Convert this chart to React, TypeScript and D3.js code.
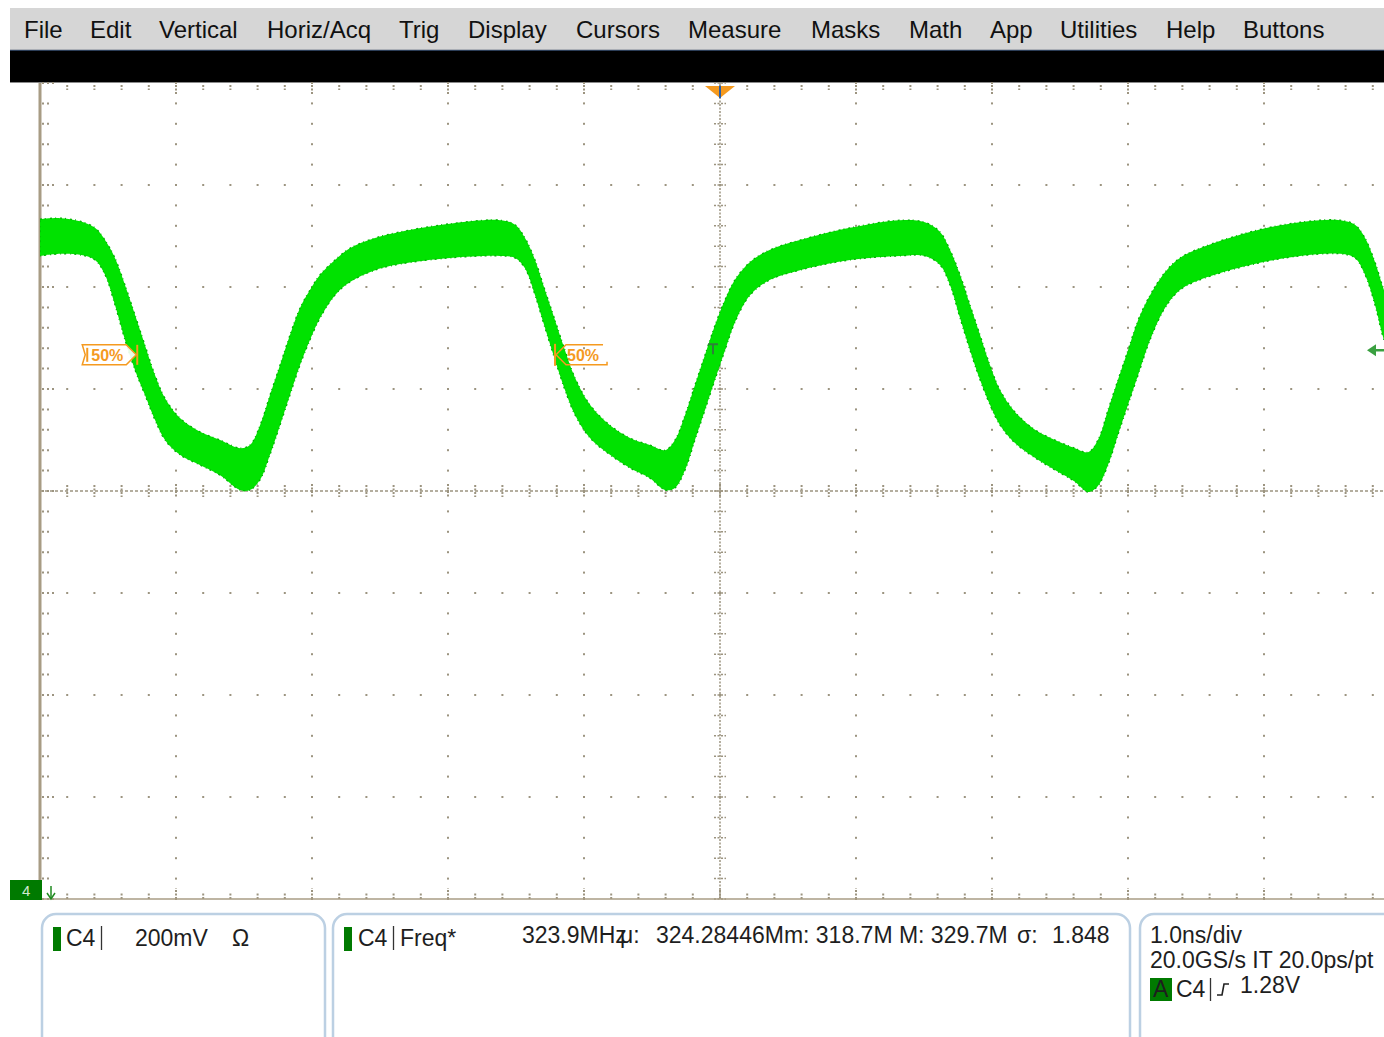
import React from "react";
import * as d3 from "d3";

// ---- data (time in ns, voltage envelope of the persistence band in V) ----
const timeNs = [
  -5.0, -4.853, -4.706, -4.596, -4.522, -4.449, -4.375, -4.301, -4.228, -4.154,
  -4.081, -3.971, -3.824, -3.676, -3.529, -3.456, -3.382, -3.309, -3.235, -3.162,
  -3.088, -3.015, -2.941, -2.831, -2.721, -2.537, -2.353, -1.985, -1.618, -1.507,
  -1.434, -1.36, -1.287, -1.213, -1.14, -1.066, -0.956, -0.809, -0.662, -0.515,
  -0.404, -0.331, -0.257, -0.184, -0.11, -0.037, 0.037, 0.11, 0.221, 0.368,
  0.588, 0.956, 1.324, 1.507, 1.618, 1.691, 1.765, 1.838, 1.912, 1.985,
  2.059, 2.169, 2.316, 2.463, 2.61, 2.706, 2.779, 2.853, 2.926, 3.0,
  3.074, 3.162, 3.272, 3.382, 3.529, 3.897, 4.265, 4.559, 4.669, 4.743,
  4.816, 4.882, 5.0,
];
const upperV = [
  1.533, 1.535, 1.529, 1.516, 1.492, 1.457, 1.404, 1.345, 1.286, 1.227,
  1.182, 1.143, 1.116, 1.1, 1.084, 1.09, 1.129, 1.188, 1.247, 1.306,
  1.359, 1.394, 1.424, 1.453, 1.476, 1.496, 1.508, 1.524, 1.531, 1.522,
  1.496, 1.453, 1.394, 1.335, 1.276, 1.222, 1.169, 1.129, 1.104, 1.09,
  1.08, 1.1, 1.149, 1.208, 1.267, 1.325, 1.375, 1.414, 1.449, 1.473,
  1.492, 1.516, 1.531, 1.527, 1.508, 1.473, 1.424, 1.365, 1.306, 1.247,
  1.198, 1.155, 1.12, 1.1, 1.084, 1.076, 1.1, 1.159, 1.218, 1.276,
  1.335, 1.384, 1.429, 1.457, 1.476, 1.508, 1.527, 1.531, 1.522, 1.496,
  1.449, 1.394, 1.316,
];
const lowerV = [
  1.461, 1.465, 1.463, 1.453, 1.424, 1.365, 1.296, 1.237, 1.188, 1.139,
  1.1, 1.071, 1.051, 1.031, 1.002, 1.002, 1.022, 1.071, 1.129, 1.188,
  1.247, 1.296, 1.339, 1.384, 1.41, 1.433, 1.445, 1.457, 1.461, 1.457,
  1.437, 1.384, 1.32, 1.257, 1.198, 1.149, 1.104, 1.071, 1.045, 1.025,
  1.002, 1.006, 1.041, 1.1, 1.159, 1.218, 1.276, 1.331, 1.384, 1.414,
  1.433, 1.453, 1.461, 1.461, 1.443, 1.404, 1.339, 1.276, 1.218, 1.169,
  1.129, 1.094, 1.065, 1.041, 1.018, 0.998, 1.01, 1.051, 1.11, 1.169,
  1.227, 1.296, 1.359, 1.394, 1.414, 1.443, 1.461, 1.465, 1.457, 1.424,
  1.365, 1.296, 1.218,
];

const menuItems = ["File", "Edit", "Vertical", "Horiz/Acq", "Trig", "Display", "Cursors", "Measure", "Masks", "Math", "App", "Utilities", "Help", "Buttons"];

const chanLabel = "C4";
const voltsPerDiv = "200mV";
const measName = "Freq*";
const measValue = "323.9MHz";
const measMean = "324.28446M";
const measMin = "318.7M";
const measMax = "329.7M";
const measSigma = "1.848";
const timebase = ["1.0ns/div", "20.0GS/s IT 20.0ps/pt"];
const trigLevel = "1.28V";
const trigLevelV = 1.276;
const refLevelV = 1.267;
const percentLabel = "50%";
const crossTimes = [-4.285, -1.213]; // 50% reference crossings (ns)

// ---- layout ----
const W = 1384, H = 1037;
const P = { left: 40, right: 1400, top: 83, bottom: 899 };
const menuX = [24, 90, 159, 267, 399, 468, 576, 688, 811, 909, 990, 1060, 1166, 1243];
const FONT = "'Liberation Sans', Arial, Helvetica, sans-serif";
const GRID = "#9c9480";

export default function App() {
  const x = d3.scaleLinear().domain([-5, 5]).range([P.left, P.right]);
  const y = d3.scaleLinear().domain([0.2, 1.8]).range([P.bottom, P.top]);

  const xMajor = d3.range(11).map((i) => -5 + i);
  const yMajor = d3.range(9).map((i) => 0.2 + 0.2 * i);
  const xMinor = d3.range(51).map((i) => -5 + i * 0.2);
  const yMinor = d3.range(41).map((i) => 0.2 + i * 0.04);

  const idx = timeNs.map((_, i) => i);
  const area = d3
    .area<number>()
    .x((i) => x(timeNs[i]))
    .y0((i) => y(lowerV[i]))
    .y1((i) => y(upperV[i]))
    .curve(d3.curveCatmullRom.alpha(0.5));
  const bandPath = area(idx) || "";

  const dots: any[] = [];
  xMajor.forEach((t) => {
    if (t === -5 || t === 0) return;
    yMinor.forEach((v, j) => {
      dots.push(<rect key={`vx${t}_${j}`} x={x(t) - 1} y={y(v) - 1} width={2} height={2} fill={GRID} />);
    });
  });
  yMajor.forEach((v, k) => {
    if (k === 0 || k === 4 || k === 8) return;
    xMinor.forEach((t, j) => {
      dots.push(<rect key={`hy${k}_${j}`} x={x(t) - 1} y={y(v) - 1} width={2} height={2} fill={GRID} />);
    });
  });

  const ticks: any[] = [];
  xMinor.forEach((t, j) => {
    const major = j % 5 === 0;
    const xx = x(t);
    ticks.push(<line key={`tt${j}`} x1={xx} x2={xx} y1={P.top + 2} y2={P.top + (major ? 11 : 7)} stroke={GRID} strokeWidth={2} strokeDasharray="2 1.5" />);
    ticks.push(<line key={`tb${j}`} x1={xx} x2={xx} y1={P.bottom} y2={P.bottom - (major ? 11 : 7)} stroke={GRID} strokeWidth={2} strokeDasharray="2 1.5" />);
    ticks.push(<line key={`tc${j}`} x1={xx} x2={xx} y1={y(1.0) - (major ? 7 : 6)} y2={y(1.0) + (major ? 7 : 6)} stroke={GRID} strokeWidth={2} strokeDasharray="2 1.5" />);
  });
  yMinor.forEach((v, j) => {
    const major = j % 5 === 0;
    const yy = y(v);
    ticks.push(<line key={`tl${j}`} x1={P.left + 2} x2={P.left + (major ? 14 : 9)} y1={yy} y2={yy} stroke={GRID} strokeWidth={2} strokeDasharray="2 3" />);
    ticks.push(<line key={`tv${j}`} x1={x(0) - 6} x2={x(0) + 6} y1={yy} y2={yy} stroke={GRID} strokeWidth={1.5} strokeDasharray="2 1.5" />);
  });

  const orange = "#f59a1f";
  const yRef = y(refLevelV);
  const yTrig = y(trigLevelV);
  const t1 = x(crossTimes[0]);
  const t2 = x(crossTimes[1]);

  const ts = { fontFamily: FONT, fill: "#1e1e1e" } as const;
  const FS = 23;

  return (
    <svg width={W} height={H} style={{ position: "absolute", left: 0, top: 0, background: "#fff" }}>
      <defs>
        <clipPath id="plotClip">
          <rect x={P.left} y={P.top} width={W - P.left} height={P.bottom - P.top} />
        </clipPath>
      </defs>
      <rect x={0} y={0} width={W} height={H} fill="#fff" />

      {/* menu bar */}
      <rect x={10} y={8} width={W - 10} height={43} fill="#d6d6d6" />
      <line x1={10} x2={W} y1={50.5} y2={50.5} stroke="#2c3e58" strokeWidth={1.5} />
      {menuItems.map((m, i) => (
        <text key={m} x={menuX[i]} y={38} fontSize={24} style={{ fontFamily: FONT }} fill="#111">
          {m}
        </text>
      ))}
      <rect x={10} y={51} width={W - 10} height={31} fill="#000" />
      <line x1={10} x2={W} y1={82.5} y2={82.5} stroke="#8a8a8a" strokeWidth={1} />

      {/* graticule */}
      {dots}
      {ticks}
      <line x1={P.left} x2={W} y1={y(1.0)} y2={y(1.0)} stroke={GRID} strokeWidth={1.5} strokeDasharray="3 2" />
      <line x1={x(0)} x2={x(0)} y1={P.top} y2={P.bottom} stroke={GRID} strokeWidth={1.5} strokeDasharray="2 1.5" />
      <line x1={P.left} x2={W} y1={P.bottom} y2={P.bottom} stroke="#a89c84" strokeWidth={1.5} />
      <line x1={P.left} x2={P.left} y1={P.top} y2={P.bottom} stroke="#a89c84" strokeWidth={3} />

      {/* waveform band */}
      <g clipPath="url(#plotClip)">
        <path d={bandPath} fill="#00e200" />
        <path d={bandPath} fill="none" stroke="#00b400" strokeWidth={1.3} strokeDasharray="2 3 1 4" />
      </g>

      {/* trigger position marker */}
      <path d={`M${x(0) - 15},${P.top + 3} L${x(0) + 15},${P.top + 3} L${x(0)},${P.top + 15} Z`} fill={orange} />
      <line x1={x(0)} x2={x(0)} y1={P.top + 3} y2={P.top + 15} stroke="#2a5fa8" strokeWidth={2} />

      {/* trigger T marker near centre */}
      <g stroke="#2f7f3a" strokeWidth={2}>
        <line x1={x(0) - 12} x2={x(0) - 2} y1={yTrig - 6} y2={yTrig - 6} />
        <line x1={x(0) - 7} x2={x(0) - 7} y1={yTrig - 6} y2={yTrig + 4} />
      </g>

      {/* trigger level marker right */}
      <path d={`M${W - 17},${yTrig} L${W - 8},${yTrig - 6} L${W - 8},${yTrig + 6} Z`} fill="#3aa040" />
      <line x1={W - 12} x2={W} y1={yTrig} y2={yTrig} stroke="#3aa040" strokeWidth={2.5} />

      {/* 50% reference tags */}
      <g>
        <line x1={t1} x2={t1} y1={yRef - 10} y2={yRef + 10} stroke={orange} strokeWidth={2} />
        <path d={`M${t1 - 55},${yRef - 10} L${t1 - 11},${yRef - 10} L${t1 - 1},${yRef} L${t1 - 11},${yRef + 10} L${t1 - 55},${yRef + 10} L${t1 - 52},${yRef} Z`} fill="#fff" fillOpacity={0.9} stroke={orange} strokeWidth={1.5} />
        <line x1={t1 - 50} x2={t1 - 50} y1={yRef - 7} y2={yRef + 7} stroke={orange} strokeWidth={2} />
        <text x={t1 - 46} y={yRef + 6} fontSize={16} fontWeight="bold" style={{ fontFamily: FONT }} fill={orange}>{percentLabel}</text>
      </g>
      <g>
        <line x1={t2} x2={t2} y1={yRef - 11} y2={yRef + 11} stroke={orange} strokeWidth={2} />
        <path d={`M${t2 + 1},${yRef} L${t2 + 11},${yRef - 10} L${t2 + 48},${yRef - 10} M${t2 + 1},${yRef} L${t2 + 11},${yRef + 10} L${t2 + 52},${yRef + 10} L${t2 + 52},${yRef + 7}`} fill="none" stroke={orange} strokeWidth={1.5} />
        <text x={t2 + 12} y={yRef + 6} fontSize={16} fontWeight="bold" style={{ fontFamily: FONT }} fill={orange}>{percentLabel}</text>
      </g>

      {/* channel ground marker */}
      <rect x={10} y={880} width={32} height={20} fill="#007a00" />
      <text x={22} y={896} fontSize={15} style={{ fontFamily: FONT }} fill="#cfe8cf">4</text>
      <line x1={51} x2={51} y1={886} y2={898} stroke="#1f8a1f" strokeWidth={1.5} />
      <path d="M47,893 L51,899 L55,893" fill="none" stroke="#1f8a1f" strokeWidth={1.5} />

      {/* info boxes */}
      <g fill="none" stroke="#bcd0e3" strokeWidth={2.5}>
        <rect x={42} y={914} width={283} height={150} rx={14} />
        <rect x={333} y={914} width={797} height={150} rx={14} />
        <rect x={1140} y={914} width={270} height={150} rx={14} />
      </g>

      {/* box 1 */}
      <rect x={53} y={927} width={8} height={24} fill="#007a00" />
      <text x={66} y={946} fontSize={FS} style={ts}>{chanLabel}</text>
      <line x1={101.5} x2={101.5} y1={926} y2={950} stroke="#333" strokeWidth={1.3} />
      <text x={135} y={946} fontSize={FS} style={ts}>{voltsPerDiv}</text>
      <text x={232} y={946} fontSize={FS} style={ts}>Ω</text>

      {/* box 2 */}
      <rect x={344} y={927} width={8} height={24} fill="#007a00" />
      <text x={358} y={946} fontSize={FS} style={ts}>{chanLabel}</text>
      <line x1={393.5} x2={393.5} y1={926} y2={950} stroke="#333" strokeWidth={1.3} />
      <text x={400} y={946} fontSize={FS} style={ts}>{measName}</text>
      <text x={522} y={943} fontSize={FS} style={ts}>{measValue}</text>
      <text x={620} y={943} fontSize={FS} style={ts}>μ:</text>
      <text x={656} y={943} fontSize={FS} style={ts}>{`${measMean}m: ${measMin} M: ${measMax}`}</text>
      <text x={1017} y={943} fontSize={FS} style={ts}>σ:</text>
      <text x={1052} y={943} fontSize={FS} style={ts}>{measSigma}</text>

      {/* box 3 */}
      <text x={1150} y={943} fontSize={FS} style={ts}>{timebase[0]}</text>
      <text x={1150} y={968} fontSize={FS} style={ts}>{timebase[1]}</text>
      <rect x={1150} y={978} width={22} height={23} fill="#007a00" />
      <text x={1153} y={997} fontSize={FS} style={ts}>A</text>
      <text x={1176} y={997} fontSize={FS} style={ts}>{chanLabel}</text>
      <line x1={1210.5} x2={1210.5} y1={978} y2={1001} stroke="#333" strokeWidth={1.3} />
      <path d="M1217,995 L1222,995 L1224,984 L1229,984" fill="none" stroke="#222" strokeWidth={1.6} />
      <text x={1240} y={993} fontSize={FS} style={ts}>{trigLevel}</text>
    </svg>
  );
}
